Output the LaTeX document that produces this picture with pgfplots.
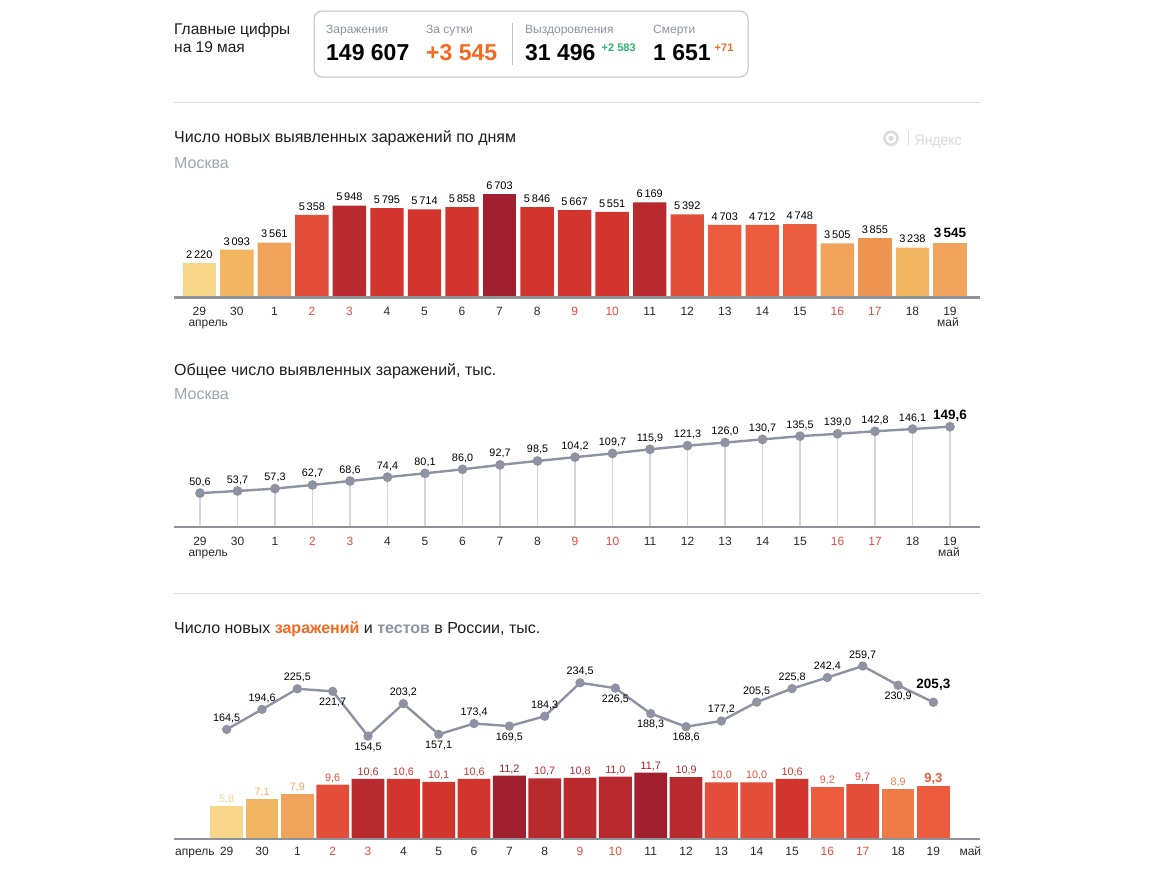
\documentclass[border=0pt]{standalone}
\usepackage{fontspec}
\setmainfont{Liberation Sans}
\usepackage{pgfplots}
\pgfplotsset{compat=1.18}

% bar colours, light to dark
\definecolor{cYel}{HTML}{F7D789}
\definecolor{cLor}{HTML}{F2B562}
\definecolor{cOrg}{HTML}{F0A35B}
\definecolor{cOr3}{HTML}{EF9552}
\definecolor{cOr4}{HTML}{EE7C48}
\definecolor{cOr2}{HTML}{EB5D3E}
\definecolor{cRor}{HTML}{E34E3A}
\definecolor{cRed}{HTML}{D2352E}
\definecolor{cDkr}{HTML}{B82A2E}
\definecolor{cDrk}{HTML}{A21F2F}
% text and lines
\definecolor{tblack}{HTML}{1E1E1E}
\definecolor{tickc}{HTML}{2A2A2A}
\definecolor{wkend}{HTML}{E84B3F}
\definecolor{mgray}{HTML}{A0A6B1}
\definecolor{lgray}{HTML}{8D93A2}
\definecolor{axgray}{HTML}{8E9299}
\definecolor{dropg}{HTML}{D3D5DB}
\definecolor{sepg}{HTML}{DCDDE0}
\definecolor{boxg}{HTML}{BDBFC4}
\definecolor{logog}{HTML}{DADCE0}
\definecolor{orng}{HTML}{F26A22}
\definecolor{grn}{HTML}{2DB46E}

\newcommand{\fs}[1]{\fontsize{#1}{#1}\selectfont}
\newcommand{\we}[1]{\textcolor{wkend}{#1}}

\pgfplotsset{
  /pgf/number format/assume math mode=true,
  dayaxis/.style={
    scale only axis, width=806pt, anchor=south west,
    axis x line*=bottom, axis y line=none,
    x axis line style={draw=axgray, line width=2.2pt},
    major tick length=0pt, ytick=\empty, ymin=0,
    xtick={0,...,20},
    xticklabels={29,30,1,\we{2},\we{3},4,5,6,7,8,\we{9},\we{10},11,12,13,14,15,\we{16},\we{17},18,19},
    xticklabel style={font=\fs{12}, text=tickc, anchor=base, inner sep=0pt},
    clip=false, axis on top,
  },
  bar1/.style={ybar, bar shift=0pt, bar width=33.4pt, draw=none, fill=#1,
    nodes near coords, every node near coord/.append style={text=black}},
  bar3/.style={ybar, bar shift=0pt, bar width=32.8pt, draw=none, fill=#1,
    nodes near coords, every node near coord/.append style={text=#1}},
  lab/.style={draw=none, mark=none, nodes near coords,
    every node near coord/.append style={yshift=#1}},
  onedec/.style={
    /pgf/number format/fixed, /pgf/number format/fixed zerofill,
    /pgf/number format/precision=1, /pgf/number format/use comma},
}

\begin{document}
\begin{tikzpicture}[x=1pt,y=1pt]
\fill[white] (0,0) rectangle (1158,-881);
\path[use as bounding box] (0,0) rectangle (1158,-881);
\coordinate (o1) at (174,-297.5);
\coordinate (o2) at (174,-527);
\coordinate (o3) at (174,-839);

% ---------- header ----------
\node[anchor=base west, inner sep=0, font=\fs{15.5}, text=tblack] at (174,-34) {Главные цифры};
\node[anchor=base west, inner sep=0, font=\fs{15.5}, text=tblack] at (174,-52.7) {на 19 мая};
\draw[boxg, line width=1pt, rounded corners=8pt] (314,-11) rectangle (748,-77);
\draw[boxg, line width=1pt] (512,-23) -- (512,-65);
\foreach \x/\t in {326/Заражения, 426/За сутки, 525/Выздоровления, 653/Смерти}
  \node[anchor=base west, inner sep=0, font=\fs{12}, text=lgray] at (\x,-33.3) {\t};
\node[anchor=base west, inner sep=0, font=\bfseries\fs{23}, text=black] at (326,-60) {149 607};
\node[anchor=base west, inner sep=0, font=\bfseries\fs{23}, text=orng] at (426,-60) {+3 545};
\node[anchor=base west, inner sep=0, font=\bfseries\fs{23}, text=black] at (525,-60) {31 496};
\node[anchor=base west, inner sep=0, font=\bfseries\fs{23}, text=black] at (653,-60) {1 651};
\node[anchor=base west, inner sep=0, font=\bfseries\fs{11}, text=grn] at (601.5,-51.7) {+2 583};
\node[anchor=base west, inner sep=0, font=\bfseries\fs{11}, text=orng] at (714.5,-51.7) {+71};

\draw[sepg, line width=1pt] (174,-102) -- (980,-102);
\draw[sepg, line width=1pt] (174,-593) -- (980,-593);

% ---------- chart 1: new cases per day, Moscow ----------
\node[anchor=base west, inner sep=0, font=\fs{16}, text=tblack] at (174,-142.3) {Число новых выявленных заражений по дням};
\node[anchor=base west, inner sep=0, font=\fs{16}, text=mgray] at (174,-168.3) {Москва};
\draw[logog, line width=2.6pt] (891,-138.3) circle (6.5);
\fill[logog] (891,-138.3) circle (2.6);
\draw[logog, line width=1pt] (908,-131) -- (908,-146);
\node[anchor=base west, inner sep=0, font=\fs{15.5}, text=logog] at (914.5,-145) {\scalebox{0.9}[1]{Яндекс}};

\begin{axis}[dayaxis, at={(o1)}, height=103.5pt,
  xmin=-0.674, xmax=20.80, ymax=6703,
  xticklabel style={yshift=-17.5pt},
  /pgf/number format/1000 sep={\,},
  every node near coord/.append style={font=\fs{11}, anchor=base, inner sep=0pt, yshift=4.7pt}]
\addplot[bar1=cYel] coordinates {(0,2220)};
\addplot[bar1=cLor] coordinates {(1,3093) (19,3238)};
\addplot[bar1=cOrg] coordinates {(2,3561) (17,3505)};
\addplot[bar1=cRor] coordinates {(3,5358) (13,5392)};
\addplot[bar1=cDkr] coordinates {(4,5948) (12,6169)};
\addplot[bar1=cRed] coordinates {(5,5795) (6,5714) (7,5858) (9,5846) (10,5667) (11,5551)};
\addplot[bar1=cDrk] coordinates {(8,6703)};
\addplot[bar1=cOr2] coordinates {(14,4703) (15,4712) (16,4748)};
\addplot[bar1=cOr3] coordinates {(18,3855)};
\addplot[bar1=cOrg, every node near coord/.append style={font=\bfseries\fs{13.5}, yshift=0.8pt}] coordinates {(20,3545)};
\end{axis}
\node[anchor=base west, inner sep=0, font=\fs{12}, text=tickc] at (188.3,-326) {апрель};
\node[anchor=base west, inner sep=0, font=\fs{12}, text=tickc] at (937,-326) {май};

% ---------- chart 2: cumulative cases, Moscow ----------
\node[anchor=base west, inner sep=0, font=\fs{16}, text=tblack] at (174,-375) {Общее число выявленных заражений, тыс.};
\node[anchor=base west, inner sep=0, font=\fs{16}, text=mgray] at (174,-399.3) {Москва};

\begin{axis}[dayaxis, at={(o2)}, height=100.3pt,
  xmin=-0.6933, xmax=20.8, ymax=149.6, onedec,
  xticklabel style={yshift=-18pt},
  every node near coord/.append style={font=\fs{10.8}, anchor=base, inner sep=0pt, text=black}]
\addplot[ycomb, draw=dropg, line width=1.4pt, mark=none] coordinates {
 (0,50.6) (1,53.7) (2,57.3) (3,62.7) (4,68.6) (5,74.4) (6,80.1) (7,86.0) (8,92.7) (9,98.5)
 (10,104.2) (11,109.7) (12,115.9) (13,121.3) (14,126.0) (15,130.7) (16,135.5) (17,139.0)
 (18,142.8) (19,146.1) (20,149.6)};
\addplot[draw=lgray, line width=2.4pt, mark=*, mark size=3.6pt, mark options={fill=lgray, draw=none}] coordinates {
 (0,50.6) (1,53.7) (2,57.3) (3,62.7) (4,68.6) (5,74.4) (6,80.1) (7,86.0) (8,92.7) (9,98.5)
 (10,104.2) (11,109.7) (12,115.9) (13,121.3) (14,126.0) (15,130.7) (16,135.5) (17,139.0)
 (18,142.8) (19,146.1) (20,149.6)};
\addplot[lab=8pt] coordinates {
 (0,50.6) (1,53.7) (2,57.3) (3,62.7) (4,68.6) (5,74.4) (6,80.1) (7,86.0) (8,92.7) (9,98.5)
 (10,104.2) (11,109.7) (12,115.9) (13,121.3) (14,126.0) (15,130.7) (16,135.5) (17,139.0)
 (18,142.8) (19,146.1)};
\addplot[lab=7.4pt, every node near coord/.append style={font=\bfseries\fs{13.5}}] coordinates {(20,149.6)};
\end{axis}
\node[anchor=base west, inner sep=0, font=\fs{12}, text=tickc] at (188.3,-556) {апрель};
\node[anchor=base west, inner sep=0, font=\fs{12}, text=tickc] at (938,-556) {май};

% ---------- chart 3: new cases and tests, Russia ----------
\node[anchor=base west, inner sep=0, font=\fs{16}, text=tblack] at (174,-633.3)
  {Число новых \textbf{\textcolor{orng}{заражений}} и \textbf{\textcolor{lgray}{тестов}} в России, тыс.};

\begin{axis}[dayaxis, at={(o3)}, height=66.3pt,
  xmin=-1.4916, xmax=21.32, ymax=11.7, onedec,
  xticklabel style={yshift=-16pt},
  every node near coord/.append style={font=\fs{10.8}, anchor=base, inner sep=0pt, yshift=3.4pt}]
\addplot[bar3=cYel] coordinates {(0,5.8)};
\addplot[bar3=cLor] coordinates {(1,7.1)};
\addplot[bar3=cOrg] coordinates {(2,7.9)};
\addplot[bar3=cRor] coordinates {(3,9.6) (14,10.0) (15,10.0) (18,9.7)};
\addplot[bar3=cDkr] coordinates {(4,10.6) (9,10.7) (10,10.8) (11,11.0) (13,10.9)};
\addplot[bar3=cRed] coordinates {(5,10.6) (6,10.1) (7,10.6) (16,10.6)};
\addplot[bar3=cDrk] coordinates {(8,11.2) (12,11.7)};
\addplot[bar3=cOr2] coordinates {(17,9.2)};
\addplot[bar3=cOr4] coordinates {(19,8.9)};
\addplot[bar3=cOr2, every node near coord/.append style={font=\bfseries\fs{13}, yshift=0.9pt}] coordinates {(20,9.3)};
\end{axis}

\begin{axis}[at={(o3)}, anchor=south west, scale only axis, width=806pt, height=173pt,
  xmin=-1.4916, xmax=21.32, ymin=0, ymax=259.7, hide axis, clip=false, onedec,
  every node near coord/.append style={font=\fs{10.8}, anchor=base, inner sep=0pt, text=black}]
\addplot[draw=lgray, line width=2.4pt, mark=*, mark size=3.4pt, mark options={fill=lgray, draw=none}] coordinates {
 (0,164.5) (1,194.6) (2,225.5) (3,221.7) (4,154.5) (5,203.2) (6,157.1) (7,173.4) (8,169.5) (9,184.3)
 (10,234.5) (11,226.5) (12,188.3) (13,168.6) (14,177.2) (15,205.5) (16,225.8) (17,242.4) (18,259.7)
 (19,230.9) (20,205.3)};
% labels above the points
\addplot[lab=8pt] coordinates {
 (0,164.5) (1,194.6) (2,225.5) (5,203.2) (7,173.4) (9,184.3) (10,234.5)
 (14,177.2) (15,205.5) (16,225.8) (17,242.4) (18,259.7)};
% labels below the points
\addplot[lab=-14pt] coordinates {
 (3,221.7) (4,154.5) (6,157.1) (8,169.5) (11,226.5) (12,188.3) (13,168.6) (19,230.9)};
\addplot[lab=13.3pt, every node near coord/.append style={font=\bfseries\fs{13.5}}] coordinates {(20,205.3)};
\end{axis}
\node[anchor=base west, inner sep=0, font=\fs{12}, text=tickc] at (175,-855) {апрель};
\node[anchor=base west, inner sep=0, font=\fs{12}, text=tickc] at (959.3,-855) {май};
\end{tikzpicture}
\end{document}
